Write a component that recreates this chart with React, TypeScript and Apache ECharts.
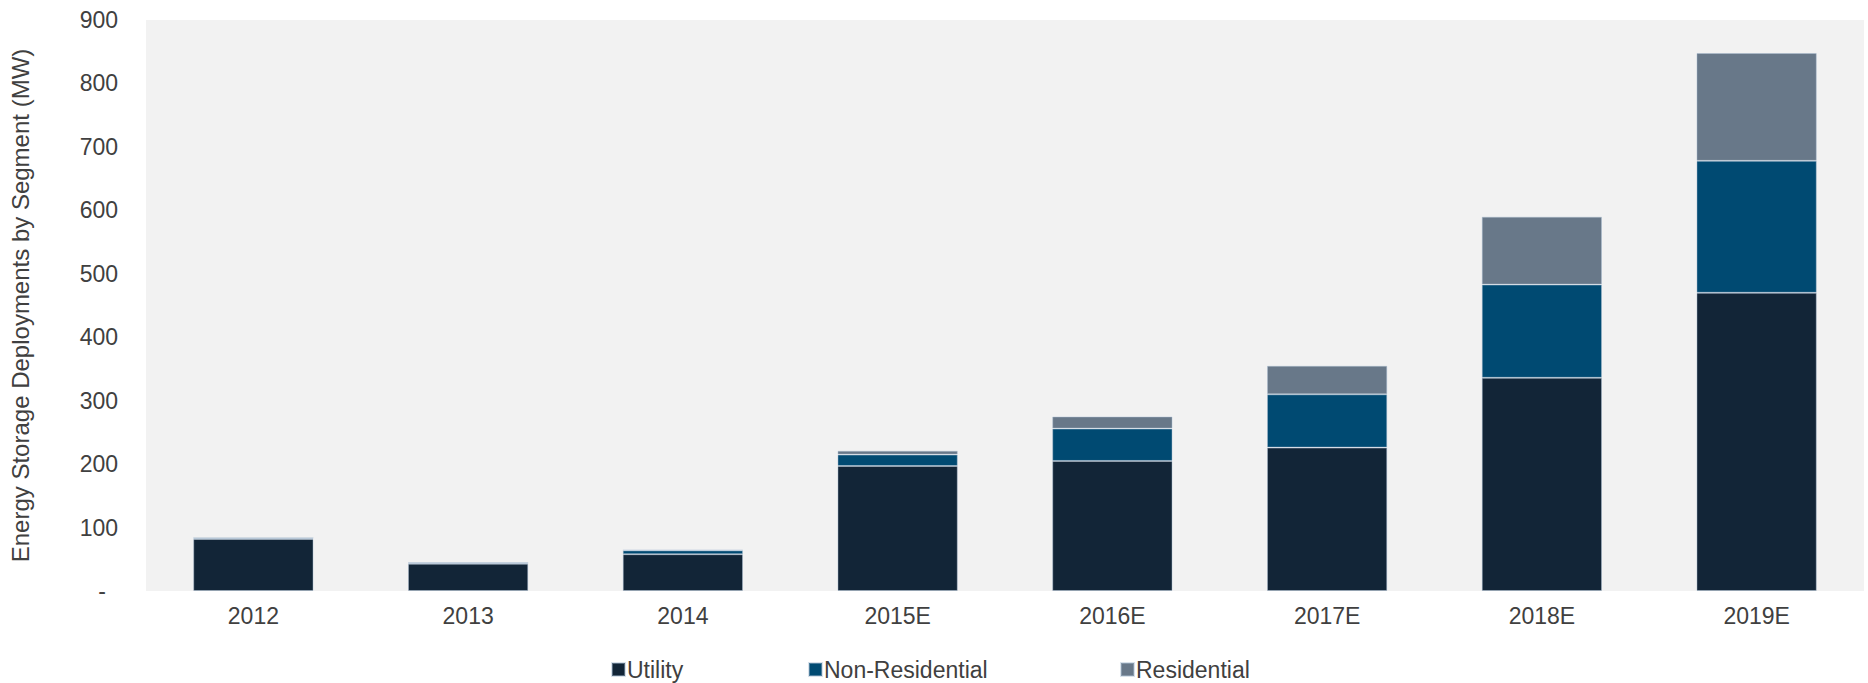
import React, { useEffect, useRef } from "react";
import * as echarts from "echarts";

const categories = ["2012", "2013", "2014", "2015E", "2016E", "2017E", "2018E", "2019E"];
const utility = [82, 43, 58, 197, 205, 226, 336, 470];
const nonResidential = [1.5, 1.3, 6, 18, 51, 84, 147, 208];
const residential = [0.3, 0.2, 0.5, 6, 19, 45, 107, 170];
const yTicks = [0, 100, 200, 300, 400, 500, 600, 700, 800, 900];

const FONT = "'Liberation Sans', Arial, sans-serif";
const TXT = "#404040";

export default function App() {
  const ref = useRef<HTMLDivElement>(null);
  useEffect(() => {
    if (!ref.current) return;
    const chart = echarts.init(ref.current, null, { renderer: "svg" });
    const mkSeries = (name: string, data: number[], color: string) => ({
      name,
      type: "bar",
      stack: "total",
      data,
      barCategoryGap: "44%",
      itemStyle: { color, borderColor: "rgba(170,190,210,0.45)", borderWidth: 1 },
    });
    const legendItem = (name: string, left: number) => ({
      data: [name],
      left,
      top: 653,
      itemWidth: 13,
      itemHeight: 13,
      itemGap: 0,
      icon: "rect",
      textStyle: { fontFamily: FONT, fontSize: 23, color: TXT, padding: [0, 0, 0, -3] },
    });
    chart.setOption({
      animation: false,
      backgroundColor: "#ffffff",
      grid: {
        left: 139,
        right: 4,
        top: 20,
        bottom: 92,
        show: true,
        backgroundColor: "#f2f2f2",
        borderWidth: 0,
      },
      legend: [
        legendItem("Utility", 606),
        legendItem("Non-Residential", 803),
        legendItem("Residential", 1115),
      ],
      xAxis: {
        type: "category",
        data: categories,
        axisLine: { show: false },
        axisTick: { show: false },
        axisLabel: { fontFamily: FONT, fontSize: 23, color: TXT, margin: 13 },
      },
      yAxis: {
        type: "value",
        min: 0,
        max: 900,
        interval: 100,
        splitLine: { show: false },
        axisLine: { show: false },
        axisTick: { show: false },
        name: "Energy Storage Deployments by Segment (MW)",
        nameLocation: "middle",
        nameGap: 114,
        nameTextStyle: { fontFamily: FONT, fontSize: 24, color: TXT },
        axisLabel: {
          fontFamily: FONT,
          fontSize: 23,
          color: TXT,
          margin: 28,
          formatter: (v: number) => (yTicks.indexOf(v) === 0 ? "{z|-}" : String(v)),
          rich: { z: { fontFamily: FONT, fontSize: 23, color: TXT, padding: [0, 12, 0, 0] } },
        },
      },
      series: [
        mkSeries("Utility", utility, "#122537"),
        mkSeries("Non-Residential", nonResidential, "#004a72"),
        mkSeries("Residential", residential, "#687889"),
      ],
    });
    return () => chart.dispose();
  }, []);
  return (
    <div
      ref={ref}
      style={{ position: "fixed", left: 0, top: 0, width: 1868, height: 683 }}
    />
  );
}
